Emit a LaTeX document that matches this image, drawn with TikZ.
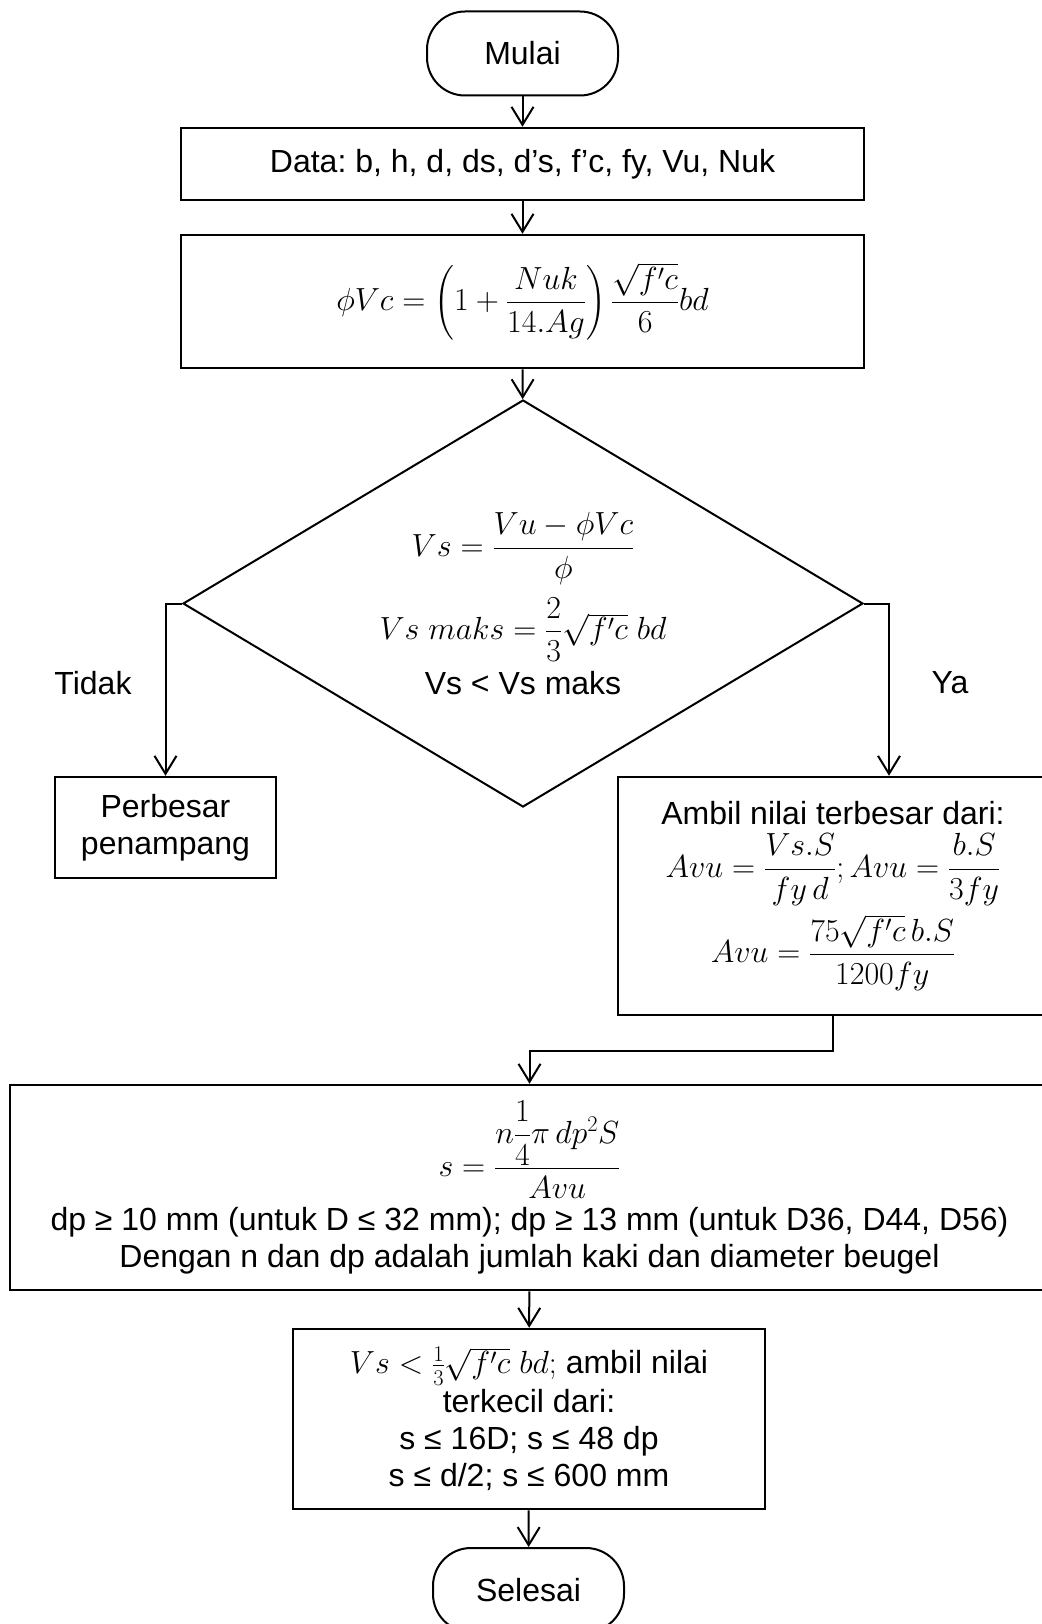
\RequirePackage{fix-cm}
\documentclass[tikz,border=0pt]{standalone}
\usepackage{amsmath}
\usepackage[no-math]{fontspec}
\setmainfont{Liberation Sans}
\usepackage{tikz}
\usetikzlibrary{shapes.geometric, arrows.meta}
\frenchspacing

\begin{document}
\begin{tikzpicture}[
            x=1pt, y=-1pt, % one unit is one pixel, going down
            every node/.style={font=\fontsize{32}{37}\selectfont, align=center, inner sep=0pt},
            proses/.style={rectangle, draw, line width=2.5pt}, % plain boxes
            terminal/.style={rectangle, draw, line width=2pt, rounded corners=38pt, minimum width=191pt, minimum height=84pt},
            keputusan/.style={diamond, draw, line width=2pt, aspect=1.67, minimum width=680pt, minimum height=407pt},
            panah/.style={line width=2pt, -{Straight Barb[length=18pt, width=22pt]}} % open arrow head
            ]
        \useasboundingbox (0,0) rectangle (1041,1624);

                % Start and input
                \node[terminal] (mulai) at (522.5,53.5) {Mulai};
                \node[proses, minimum width=683pt, minimum height=72pt] (data) at (522.5,164) {Data: b, h, d, ds, d’s, f’c, fy, Vu, Nuk};
                \node[proses, minimum width=683pt, minimum height=133pt] (vc) at (522.5,301.5)
                    {$\phi Vc=\left(1+\dfrac{Nuk}{14.Ag}\right)\dfrac{\sqrt{f'c}}{6}bd$};

                % Check of Vs against Vs maks
                \node[keputusan] (cek) at (523,603.5)
                    {$Vs=\dfrac{Vu-\phi Vc}{\phi}$\\[12pt]
                     $Vs\ maks=\dfrac{2}{3}\sqrt{f'c}\ bd$\\[8pt]
                     Vs < Vs maks};
                \node (tidak) at (93,683) {Tidak};
                \node (ya) at (950,683) {Ya};
                \node[proses, minimum width=221pt, minimum height=101pt] (perbesar) at (165.5,827.5) {Perbesar\\penampang};
                \node[proses, minimum width=430pt, minimum height=238pt] (ambil) at (833,896)
                    {Ambil nilai terbesar dari:\\[8pt]
                     $Avu=\dfrac{Vs.S}{fy\,d};Avu=\dfrac{b.S}{3fy}$\\[8pt]
                     $Avu=\dfrac{75\sqrt{f'c}\,b.S}{1200fy}$};

                % Spacing of the stirrups
                \node[proses, minimum width=1039pt, minimum height=205pt] (jarak) at (529.5,1187.5)
                    {$s=\dfrac{n\dfrac{1}{4}\pi\,dp^2S}{Avu}$\\[7pt]
                     dp ≥ 10 mm (untuk D ≤ 32 mm); dp ≥ 13 mm (untuk D36, D44, D56)\\
                     Dengan n dan dp adalah jumlah kaki dan diameter beugel};
                \node[proses, minimum width=472pt, minimum height=180pt] (batas) at (529,1419)
                    {$Vs<\frac{1}{3}\sqrt{f'c}\ bd;$ ambil nilai\\[2pt]
                     terkecil dari:\\
                     s ≤ 16D; s ≤ 48 dp\\
                     s ≤ d/2; s ≤ 600 mm};
                \node[terminal] (selesai) at (528.5,1590) {Selesai};

                % Connectors
                \draw[panah] (mulai) -- (data);
                \draw[panah] (data) -- (vc);
                \draw[panah] (vc) -- (cek);
                \draw[panah] (cek.west) -| (perbesar.north);
                \draw[panah] (cek.east) -- ++(25,0) coordinate (belok) -- (belok |- ambil.north);
                \draw[panah] (ambil.south) -- ++(0,35) -| (jarak.north);
                \draw[panah] (jarak) -- (batas);
                \draw[panah] (batas) -- (selesai);

            \end{tikzpicture}
\end{document}
